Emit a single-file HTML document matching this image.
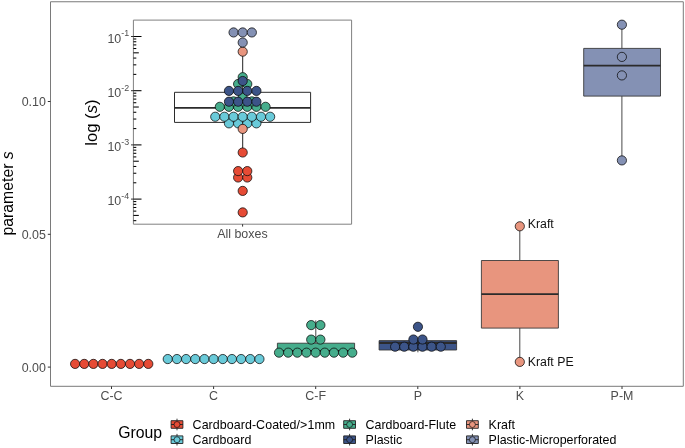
<!DOCTYPE html>
<html><head><meta charset="utf-8"><title>parameter s by group</title>
<style>
html,body{margin:0;padding:0;background:#fff;}
body{width:685px;height:448px;overflow:hidden;}
svg{display:block;font-family:"Liberation Sans",Arial,Helvetica,sans-serif;}
</style></head><body>
<svg width="685" height="448" viewBox="0 0 685 448">
<rect x="0" y="0" width="685" height="448" fill="#fff"/>
<rect x="50.50" y="1.75" width="632.80" height="384.55" fill="#fff" stroke="#7a7a7a" stroke-width="1.0" stroke-linejoin="round"/>
<line x1="47.80" y1="367.10" x2="50.50" y2="367.10" stroke="#333" stroke-width="1.0"/>
<text x="45.90" y="371.60" font-size="12.43" fill="#4D4D4D" text-anchor="end" >0.00</text>
<line x1="47.80" y1="234.30" x2="50.50" y2="234.30" stroke="#333" stroke-width="1.0"/>
<text x="45.90" y="238.80" font-size="12.43" fill="#4D4D4D" text-anchor="end" >0.05</text>
<line x1="47.80" y1="101.50" x2="50.50" y2="101.50" stroke="#333" stroke-width="1.0"/>
<text x="45.90" y="106.00" font-size="12.43" fill="#4D4D4D" text-anchor="end" >0.10</text>
<line x1="111.50" y1="386.30" x2="111.50" y2="389.00" stroke="#333" stroke-width="1.0"/>
<text x="111.50" y="399.70" font-size="12.43" fill="#4D4D4D" text-anchor="middle" >C-C</text>
<line x1="213.60" y1="386.30" x2="213.60" y2="389.00" stroke="#333" stroke-width="1.0"/>
<text x="213.60" y="399.70" font-size="12.43" fill="#4D4D4D" text-anchor="middle" >C</text>
<line x1="315.70" y1="386.30" x2="315.70" y2="389.00" stroke="#333" stroke-width="1.0"/>
<text x="315.70" y="399.70" font-size="12.43" fill="#4D4D4D" text-anchor="middle" >C-F</text>
<line x1="417.80" y1="386.30" x2="417.80" y2="389.00" stroke="#333" stroke-width="1.0"/>
<text x="417.80" y="399.70" font-size="12.43" fill="#4D4D4D" text-anchor="middle" >P</text>
<line x1="519.90" y1="386.30" x2="519.90" y2="389.00" stroke="#333" stroke-width="1.0"/>
<text x="519.90" y="399.70" font-size="12.43" fill="#4D4D4D" text-anchor="middle" >K</text>
<line x1="622.00" y1="386.30" x2="622.00" y2="389.00" stroke="#333" stroke-width="1.0"/>
<text x="622.00" y="399.70" font-size="12.43" fill="#4D4D4D" text-anchor="middle" >P-M</text>
<text transform="translate(13.2,193.4) rotate(-90)" font-size="15.8" fill="#000" text-anchor="middle">parameter <tspan font-style="italic">s</tspan></text>
<circle cx="75.10" cy="363.90" r="4.6" fill="#E64B35" stroke="#0a0a0a" stroke-width="0.75"/>
<circle cx="84.25" cy="363.90" r="4.6" fill="#E64B35" stroke="#0a0a0a" stroke-width="0.75"/>
<circle cx="93.40" cy="363.90" r="4.6" fill="#E64B35" stroke="#0a0a0a" stroke-width="0.75"/>
<circle cx="102.55" cy="363.90" r="4.6" fill="#E64B35" stroke="#0a0a0a" stroke-width="0.75"/>
<circle cx="111.70" cy="363.90" r="4.6" fill="#E64B35" stroke="#0a0a0a" stroke-width="0.75"/>
<circle cx="120.85" cy="363.90" r="4.6" fill="#E64B35" stroke="#0a0a0a" stroke-width="0.75"/>
<circle cx="130.00" cy="363.90" r="4.6" fill="#E64B35" stroke="#0a0a0a" stroke-width="0.75"/>
<circle cx="139.15" cy="363.90" r="4.6" fill="#E64B35" stroke="#0a0a0a" stroke-width="0.75"/>
<circle cx="148.30" cy="363.90" r="4.6" fill="#E64B35" stroke="#0a0a0a" stroke-width="0.75"/>
<circle cx="167.75" cy="359.05" r="4.6" fill="#69CAD9" stroke="#0a0a0a" stroke-width="0.75"/>
<circle cx="176.92" cy="359.05" r="4.6" fill="#69CAD9" stroke="#0a0a0a" stroke-width="0.75"/>
<circle cx="186.09" cy="359.05" r="4.6" fill="#69CAD9" stroke="#0a0a0a" stroke-width="0.75"/>
<circle cx="195.26" cy="359.05" r="4.6" fill="#69CAD9" stroke="#0a0a0a" stroke-width="0.75"/>
<circle cx="204.43" cy="359.05" r="4.6" fill="#69CAD9" stroke="#0a0a0a" stroke-width="0.75"/>
<circle cx="213.60" cy="359.05" r="4.6" fill="#69CAD9" stroke="#0a0a0a" stroke-width="0.75"/>
<circle cx="222.77" cy="359.05" r="4.6" fill="#69CAD9" stroke="#0a0a0a" stroke-width="0.75"/>
<circle cx="231.94" cy="359.05" r="4.6" fill="#69CAD9" stroke="#0a0a0a" stroke-width="0.75"/>
<circle cx="241.11" cy="359.05" r="4.6" fill="#69CAD9" stroke="#0a0a0a" stroke-width="0.75"/>
<circle cx="250.28" cy="359.05" r="4.6" fill="#69CAD9" stroke="#0a0a0a" stroke-width="0.75"/>
<circle cx="259.45" cy="359.05" r="4.6" fill="#69CAD9" stroke="#0a0a0a" stroke-width="0.75"/>
<line x1="315.80" y1="343.20" x2="315.80" y2="320.40" stroke="#333" stroke-width="0.9"/>
<rect x="277.40" y="343.20" width="77.20" height="9.30" fill="#46AD8C" stroke="#333" stroke-width="0.85" stroke-linejoin="round"/>
<line x1="277.40" y1="351.00" x2="354.60" y2="351.00" stroke="#2b2b2b" stroke-width="1.8"/>
<circle cx="279.01" cy="352.65" r="4.6" fill="#46AD8C" stroke="#0a0a0a" stroke-width="0.75"/>
<circle cx="288.17" cy="352.65" r="4.6" fill="#46AD8C" stroke="#0a0a0a" stroke-width="0.75"/>
<circle cx="297.33" cy="352.65" r="4.6" fill="#46AD8C" stroke="#0a0a0a" stroke-width="0.75"/>
<circle cx="306.49" cy="352.65" r="4.6" fill="#46AD8C" stroke="#0a0a0a" stroke-width="0.75"/>
<circle cx="315.65" cy="352.65" r="4.6" fill="#46AD8C" stroke="#0a0a0a" stroke-width="0.75"/>
<circle cx="324.81" cy="352.65" r="4.6" fill="#46AD8C" stroke="#0a0a0a" stroke-width="0.75"/>
<circle cx="333.97" cy="352.65" r="4.6" fill="#46AD8C" stroke="#0a0a0a" stroke-width="0.75"/>
<circle cx="343.13" cy="352.65" r="4.6" fill="#46AD8C" stroke="#0a0a0a" stroke-width="0.75"/>
<circle cx="352.29" cy="352.65" r="4.6" fill="#46AD8C" stroke="#0a0a0a" stroke-width="0.75"/>
<circle cx="311.20" cy="339.60" r="4.6" fill="#46AD8C" stroke="#0a0a0a" stroke-width="0.75"/>
<circle cx="320.40" cy="339.60" r="4.6" fill="#46AD8C" stroke="#0a0a0a" stroke-width="0.75"/>
<circle cx="311.20" cy="325.10" r="4.6" fill="#46AD8C" stroke="#0a0a0a" stroke-width="0.75"/>
<circle cx="320.40" cy="325.10" r="4.6" fill="#46AD8C" stroke="#0a0a0a" stroke-width="0.75"/>
<line x1="417.90" y1="340.60" x2="417.90" y2="339.00" stroke="#333" stroke-width="0.9"/>
<line x1="417.90" y1="350.00" x2="417.90" y2="352.30" stroke="#333" stroke-width="0.9"/>
<rect x="379.10" y="340.60" width="77.50" height="9.40" fill="#3C5488" stroke="#333" stroke-width="0.85" stroke-linejoin="round"/>
<line x1="379.10" y1="342.90" x2="456.60" y2="342.90" stroke="#2b2b2b" stroke-width="2.1"/>
<circle cx="395.12" cy="346.70" r="4.6" fill="#3C5488" stroke="#0a0a0a" stroke-width="0.75"/>
<circle cx="404.25" cy="346.70" r="4.6" fill="#3C5488" stroke="#0a0a0a" stroke-width="0.75"/>
<circle cx="413.38" cy="346.70" r="4.6" fill="#3C5488" stroke="#0a0a0a" stroke-width="0.75"/>
<circle cx="422.51" cy="346.70" r="4.6" fill="#3C5488" stroke="#0a0a0a" stroke-width="0.75"/>
<circle cx="431.64" cy="346.70" r="4.6" fill="#3C5488" stroke="#0a0a0a" stroke-width="0.75"/>
<circle cx="440.77" cy="346.70" r="4.6" fill="#3C5488" stroke="#0a0a0a" stroke-width="0.75"/>
<circle cx="413.40" cy="339.50" r="4.6" fill="#3C5488" stroke="#0a0a0a" stroke-width="0.75"/>
<circle cx="422.50" cy="339.50" r="4.6" fill="#3C5488" stroke="#0a0a0a" stroke-width="0.75"/>
<circle cx="417.95" cy="326.80" r="4.6" fill="#3C5488" stroke="#0a0a0a" stroke-width="0.75"/>
<line x1="519.80" y1="226.30" x2="519.80" y2="260.20" stroke="#333" stroke-width="0.9"/>
<line x1="519.80" y1="327.80" x2="519.80" y2="361.90" stroke="#333" stroke-width="0.9"/>
<rect x="481.40" y="260.50" width="77.00" height="67.60" fill="#E8957E" stroke="#333" stroke-width="0.85" stroke-linejoin="round"/>
<line x1="481.40" y1="294.10" x2="558.40" y2="294.10" stroke="#2b2b2b" stroke-width="1.8"/>
<circle cx="519.80" cy="226.30" r="4.6" fill="#E8957E" stroke="#0a0a0a" stroke-width="0.75"/>
<circle cx="519.80" cy="361.90" r="4.6" fill="#E8957E" stroke="#0a0a0a" stroke-width="0.75"/>
<text x="527.80" y="228.00" font-size="12.3" fill="#111" text-anchor="start" >Kraft</text>
<text x="527.80" y="366.30" font-size="12.3" fill="#111" text-anchor="start" >Kraft PE</text>
<line x1="621.90" y1="24.70" x2="621.90" y2="48.40" stroke="#333" stroke-width="0.9"/>
<line x1="621.90" y1="96.10" x2="621.90" y2="160.40" stroke="#333" stroke-width="0.9"/>
<rect x="583.70" y="48.40" width="76.80" height="47.70" fill="#8491B4" stroke="#333" stroke-width="0.85" stroke-linejoin="round"/>
<line x1="583.70" y1="65.60" x2="660.50" y2="65.60" stroke="#2b2b2b" stroke-width="1.8"/>
<circle cx="621.90" cy="24.70" r="4.6" fill="#8491B4" stroke="#0a0a0a" stroke-width="0.75"/>
<circle cx="621.90" cy="56.90" r="4.6" fill="#8491B4" stroke="#0a0a0a" stroke-width="0.75"/>
<circle cx="621.90" cy="75.40" r="4.6" fill="#8491B4" stroke="#0a0a0a" stroke-width="0.75"/>
<circle cx="621.90" cy="160.40" r="4.6" fill="#8491B4" stroke="#0a0a0a" stroke-width="0.75"/>
<rect x="84.00" y="14.00" width="272.00" height="232.00" fill="#fff" stroke="none" stroke-width="0" stroke-linejoin="round"/>
<rect x="133.40" y="20.10" width="218.20" height="204.10" fill="#fff" stroke="#808080" stroke-width="1.0" stroke-linejoin="round"/>
<line x1="131.00" y1="36.50" x2="133.40" y2="36.50" stroke="#333" stroke-width="1.0"/>
<text x="129.2" y="42.60" font-size="12.43" fill="#4D4D4D" text-anchor="end">10<tspan font-size="8.9" dy="-6.3">-1</tspan></text>
<line x1="131.00" y1="90.70" x2="133.40" y2="90.70" stroke="#333" stroke-width="1.0"/>
<text x="129.2" y="96.80" font-size="12.43" fill="#4D4D4D" text-anchor="end">10<tspan font-size="8.9" dy="-6.3">-2</tspan></text>
<line x1="131.00" y1="144.90" x2="133.40" y2="144.90" stroke="#333" stroke-width="1.0"/>
<text x="129.2" y="151.00" font-size="12.43" fill="#4D4D4D" text-anchor="end">10<tspan font-size="8.9" dy="-6.3">-3</tspan></text>
<line x1="131.00" y1="199.10" x2="133.40" y2="199.10" stroke="#333" stroke-width="1.0"/>
<text x="129.2" y="205.20" font-size="12.43" fill="#4D4D4D" text-anchor="end">10<tspan font-size="8.9" dy="-6.3">-4</tspan></text>
<line x1="133.40" y1="36.50" x2="141.50" y2="36.50" stroke="#000" stroke-width="1.05"/>
<line x1="133.40" y1="90.70" x2="141.50" y2="90.70" stroke="#000" stroke-width="1.05"/>
<line x1="133.40" y1="74.38" x2="136.30" y2="74.38" stroke="#000" stroke-width="1.05"/>
<line x1="133.40" y1="64.84" x2="136.30" y2="64.84" stroke="#000" stroke-width="1.05"/>
<line x1="133.40" y1="58.07" x2="136.30" y2="58.07" stroke="#000" stroke-width="1.05"/>
<line x1="133.40" y1="52.82" x2="138.80" y2="52.82" stroke="#000" stroke-width="1.05"/>
<line x1="133.40" y1="48.52" x2="136.30" y2="48.52" stroke="#000" stroke-width="1.05"/>
<line x1="133.40" y1="44.90" x2="136.30" y2="44.90" stroke="#000" stroke-width="1.05"/>
<line x1="133.40" y1="41.75" x2="136.30" y2="41.75" stroke="#000" stroke-width="1.05"/>
<line x1="133.40" y1="38.98" x2="136.30" y2="38.98" stroke="#000" stroke-width="1.05"/>
<line x1="133.40" y1="144.90" x2="141.50" y2="144.90" stroke="#000" stroke-width="1.05"/>
<line x1="133.40" y1="128.58" x2="136.30" y2="128.58" stroke="#000" stroke-width="1.05"/>
<line x1="133.40" y1="119.04" x2="136.30" y2="119.04" stroke="#000" stroke-width="1.05"/>
<line x1="133.40" y1="112.27" x2="136.30" y2="112.27" stroke="#000" stroke-width="1.05"/>
<line x1="133.40" y1="107.02" x2="138.80" y2="107.02" stroke="#000" stroke-width="1.05"/>
<line x1="133.40" y1="102.72" x2="136.30" y2="102.72" stroke="#000" stroke-width="1.05"/>
<line x1="133.40" y1="99.10" x2="136.30" y2="99.10" stroke="#000" stroke-width="1.05"/>
<line x1="133.40" y1="95.95" x2="136.30" y2="95.95" stroke="#000" stroke-width="1.05"/>
<line x1="133.40" y1="93.18" x2="136.30" y2="93.18" stroke="#000" stroke-width="1.05"/>
<line x1="133.40" y1="199.10" x2="141.50" y2="199.10" stroke="#000" stroke-width="1.05"/>
<line x1="133.40" y1="182.78" x2="136.30" y2="182.78" stroke="#000" stroke-width="1.05"/>
<line x1="133.40" y1="173.24" x2="136.30" y2="173.24" stroke="#000" stroke-width="1.05"/>
<line x1="133.40" y1="166.47" x2="136.30" y2="166.47" stroke="#000" stroke-width="1.05"/>
<line x1="133.40" y1="161.22" x2="138.80" y2="161.22" stroke="#000" stroke-width="1.05"/>
<line x1="133.40" y1="156.92" x2="136.30" y2="156.92" stroke="#000" stroke-width="1.05"/>
<line x1="133.40" y1="153.30" x2="136.30" y2="153.30" stroke="#000" stroke-width="1.05"/>
<line x1="133.40" y1="150.15" x2="136.30" y2="150.15" stroke="#000" stroke-width="1.05"/>
<line x1="133.40" y1="147.38" x2="136.30" y2="147.38" stroke="#000" stroke-width="1.05"/>
<line x1="133.40" y1="220.67" x2="136.30" y2="220.67" stroke="#000" stroke-width="1.05"/>
<line x1="133.40" y1="215.42" x2="138.80" y2="215.42" stroke="#000" stroke-width="1.05"/>
<line x1="133.40" y1="211.12" x2="136.30" y2="211.12" stroke="#000" stroke-width="1.05"/>
<line x1="133.40" y1="207.50" x2="136.30" y2="207.50" stroke="#000" stroke-width="1.05"/>
<line x1="133.40" y1="204.35" x2="136.30" y2="204.35" stroke="#000" stroke-width="1.05"/>
<line x1="133.40" y1="201.58" x2="136.30" y2="201.58" stroke="#000" stroke-width="1.05"/>
<line x1="242.60" y1="224.20" x2="242.60" y2="226.60" stroke="#333" stroke-width="1.0"/>
<text x="242.40" y="237.60" font-size="12.43" fill="#4D4D4D" text-anchor="middle" >All boxes</text>
<text transform="translate(96.9,122.6) rotate(-90)" font-size="16.7" fill="#000" text-anchor="middle">log (<tspan font-style="italic">s</tspan>)</text>
<line x1="242.70" y1="55.90" x2="242.70" y2="92.30" stroke="#222" stroke-width="1.0"/>
<line x1="242.70" y1="122.30" x2="242.70" y2="152.20" stroke="#222" stroke-width="1.0"/>
<rect x="174.50" y="92.30" width="136.10" height="30.10" fill="#fff" stroke="#2b2b2b" stroke-width="1.0" stroke-linejoin="round"/>
<line x1="174.50" y1="107.90" x2="310.60" y2="107.90" stroke="#2b2b2b" stroke-width="1.8"/>
<circle cx="242.70" cy="212.40" r="4.6" fill="#E64B35" stroke="#0a0a0a" stroke-width="0.75"/>
<circle cx="242.70" cy="190.90" r="4.6" fill="#E64B35" stroke="#0a0a0a" stroke-width="0.75"/>
<circle cx="238.12" cy="177.50" r="4.6" fill="#E64B35" stroke="#0a0a0a" stroke-width="0.75"/>
<circle cx="247.27" cy="177.50" r="4.6" fill="#E64B35" stroke="#0a0a0a" stroke-width="0.75"/>
<circle cx="238.12" cy="171.10" r="4.6" fill="#E64B35" stroke="#0a0a0a" stroke-width="0.75"/>
<circle cx="247.27" cy="171.10" r="4.6" fill="#E64B35" stroke="#0a0a0a" stroke-width="0.75"/>
<circle cx="242.70" cy="152.50" r="4.6" fill="#E64B35" stroke="#0a0a0a" stroke-width="0.75"/>
<circle cx="228.97" cy="123.35" r="4.6" fill="#69CAD9" stroke="#0a0a0a" stroke-width="0.75"/>
<circle cx="238.12" cy="123.35" r="4.6" fill="#69CAD9" stroke="#0a0a0a" stroke-width="0.75"/>
<circle cx="247.27" cy="123.35" r="4.6" fill="#69CAD9" stroke="#0a0a0a" stroke-width="0.75"/>
<circle cx="256.43" cy="123.35" r="4.6" fill="#69CAD9" stroke="#0a0a0a" stroke-width="0.75"/>
<circle cx="215.25" cy="116.75" r="4.6" fill="#69CAD9" stroke="#0a0a0a" stroke-width="0.75"/>
<circle cx="224.40" cy="116.75" r="4.6" fill="#69CAD9" stroke="#0a0a0a" stroke-width="0.75"/>
<circle cx="233.55" cy="116.75" r="4.6" fill="#69CAD9" stroke="#0a0a0a" stroke-width="0.75"/>
<circle cx="242.70" cy="116.75" r="4.6" fill="#69CAD9" stroke="#0a0a0a" stroke-width="0.75"/>
<circle cx="251.85" cy="116.75" r="4.6" fill="#69CAD9" stroke="#0a0a0a" stroke-width="0.75"/>
<circle cx="261.00" cy="116.75" r="4.6" fill="#69CAD9" stroke="#0a0a0a" stroke-width="0.75"/>
<circle cx="270.15" cy="116.75" r="4.6" fill="#69CAD9" stroke="#0a0a0a" stroke-width="0.75"/>
<circle cx="219.82" cy="106.80" r="4.6" fill="#46AD8C" stroke="#0a0a0a" stroke-width="0.75"/>
<circle cx="228.97" cy="106.80" r="4.6" fill="#46AD8C" stroke="#0a0a0a" stroke-width="0.75"/>
<circle cx="238.12" cy="106.80" r="4.6" fill="#46AD8C" stroke="#0a0a0a" stroke-width="0.75"/>
<circle cx="247.27" cy="106.80" r="4.6" fill="#46AD8C" stroke="#0a0a0a" stroke-width="0.75"/>
<circle cx="256.43" cy="106.80" r="4.6" fill="#46AD8C" stroke="#0a0a0a" stroke-width="0.75"/>
<circle cx="265.57" cy="106.80" r="4.6" fill="#46AD8C" stroke="#0a0a0a" stroke-width="0.75"/>
<circle cx="233.55" cy="101.40" r="4.6" fill="#46AD8C" stroke="#0a0a0a" stroke-width="0.75"/>
<circle cx="242.70" cy="101.40" r="4.6" fill="#46AD8C" stroke="#0a0a0a" stroke-width="0.75"/>
<circle cx="251.85" cy="101.40" r="4.6" fill="#46AD8C" stroke="#0a0a0a" stroke-width="0.75"/>
<circle cx="242.70" cy="97.60" r="4.6" fill="#46AD8C" stroke="#0a0a0a" stroke-width="0.75"/>
<circle cx="238.12" cy="84.00" r="4.6" fill="#46AD8C" stroke="#0a0a0a" stroke-width="0.75"/>
<circle cx="247.27" cy="84.00" r="4.6" fill="#46AD8C" stroke="#0a0a0a" stroke-width="0.75"/>
<circle cx="242.70" cy="77.20" r="4.6" fill="#46AD8C" stroke="#0a0a0a" stroke-width="0.75"/>
<circle cx="228.97" cy="101.70" r="4.6" fill="#3C5488" stroke="#0a0a0a" stroke-width="0.75"/>
<circle cx="238.12" cy="101.70" r="4.6" fill="#3C5488" stroke="#0a0a0a" stroke-width="0.75"/>
<circle cx="247.27" cy="101.70" r="4.6" fill="#3C5488" stroke="#0a0a0a" stroke-width="0.75"/>
<circle cx="256.43" cy="101.70" r="4.6" fill="#3C5488" stroke="#0a0a0a" stroke-width="0.75"/>
<circle cx="228.97" cy="90.90" r="4.6" fill="#3C5488" stroke="#0a0a0a" stroke-width="0.75"/>
<circle cx="238.12" cy="90.90" r="4.6" fill="#3C5488" stroke="#0a0a0a" stroke-width="0.75"/>
<circle cx="247.27" cy="90.90" r="4.6" fill="#3C5488" stroke="#0a0a0a" stroke-width="0.75"/>
<circle cx="256.43" cy="90.90" r="4.6" fill="#3C5488" stroke="#0a0a0a" stroke-width="0.75"/>
<circle cx="242.70" cy="81.00" r="4.6" fill="#3C5488" stroke="#0a0a0a" stroke-width="0.75"/>
<circle cx="242.70" cy="128.90" r="4.6" fill="#E8957E" stroke="#0a0a0a" stroke-width="0.75"/>
<circle cx="242.70" cy="51.65" r="4.6" fill="#E8957E" stroke="#0a0a0a" stroke-width="0.75"/>
<circle cx="242.70" cy="42.55" r="4.6" fill="#8491B4" stroke="#0a0a0a" stroke-width="0.75"/>
<circle cx="233.55" cy="32.45" r="4.6" fill="#8491B4" stroke="#0a0a0a" stroke-width="0.75"/>
<circle cx="242.70" cy="32.45" r="4.6" fill="#8491B4" stroke="#0a0a0a" stroke-width="0.75"/>
<circle cx="251.85" cy="32.45" r="4.6" fill="#8491B4" stroke="#0a0a0a" stroke-width="0.75"/>
<text x="118.2" y="437.6" font-size="15.8" fill="#000">Group</text>
<line x1="177.00" y1="418.70" x2="177.00" y2="430.30" stroke="#222" stroke-width="0.9"/>
<rect x="171.10" y="420.70" width="11.80" height="7.60" fill="#E64B35" stroke="#222" stroke-width="0.9" stroke-linejoin="round"/>
<line x1="171.00" y1="424.50" x2="183.00" y2="424.50" stroke="#222" stroke-width="0.9"/>
<circle cx="177" cy="424.5" r="3.0" fill="#E64B35" stroke="#111" stroke-width="0.7"/>
<text x="192.60" y="428.70" font-size="12.43" fill="#000" text-anchor="start" letter-spacing="0.07">Cardboard-Coated/&gt;1mm</text>
<line x1="177.00" y1="433.90" x2="177.00" y2="445.50" stroke="#222" stroke-width="0.9"/>
<rect x="171.10" y="435.90" width="11.80" height="7.60" fill="#69CAD9" stroke="#222" stroke-width="0.9" stroke-linejoin="round"/>
<line x1="171.00" y1="439.70" x2="183.00" y2="439.70" stroke="#222" stroke-width="0.9"/>
<circle cx="177" cy="439.7" r="3.0" fill="#69CAD9" stroke="#111" stroke-width="0.7"/>
<text x="192.60" y="443.90" font-size="12.43" fill="#000" text-anchor="start" >Cardboard</text>
<line x1="349.60" y1="418.70" x2="349.60" y2="430.30" stroke="#222" stroke-width="0.9"/>
<rect x="343.70" y="420.70" width="11.80" height="7.60" fill="#46AD8C" stroke="#222" stroke-width="0.9" stroke-linejoin="round"/>
<line x1="343.60" y1="424.50" x2="355.60" y2="424.50" stroke="#222" stroke-width="0.9"/>
<circle cx="349.6" cy="424.5" r="3.0" fill="#46AD8C" stroke="#111" stroke-width="0.7"/>
<text x="365.60" y="428.70" font-size="12.43" fill="#000" text-anchor="start" >Cardboard-Flute</text>
<line x1="349.60" y1="433.90" x2="349.60" y2="445.50" stroke="#222" stroke-width="0.9"/>
<rect x="343.70" y="435.90" width="11.80" height="7.60" fill="#3C5488" stroke="#222" stroke-width="0.9" stroke-linejoin="round"/>
<line x1="343.60" y1="439.70" x2="355.60" y2="439.70" stroke="#222" stroke-width="0.9"/>
<circle cx="349.6" cy="439.7" r="3.0" fill="#3C5488" stroke="#111" stroke-width="0.7"/>
<text x="365.60" y="443.90" font-size="12.43" fill="#000" text-anchor="start" >Plastic</text>
<line x1="472.40" y1="418.70" x2="472.40" y2="430.30" stroke="#222" stroke-width="0.9"/>
<rect x="466.50" y="420.70" width="11.80" height="7.60" fill="#E8957E" stroke="#222" stroke-width="0.9" stroke-linejoin="round"/>
<line x1="466.40" y1="424.50" x2="478.40" y2="424.50" stroke="#222" stroke-width="0.9"/>
<circle cx="472.4" cy="424.5" r="3.0" fill="#E8957E" stroke="#111" stroke-width="0.7"/>
<text x="488.60" y="428.70" font-size="12.43" fill="#000" text-anchor="start" >Kraft</text>
<line x1="472.40" y1="433.90" x2="472.40" y2="445.50" stroke="#222" stroke-width="0.9"/>
<rect x="466.50" y="435.90" width="11.80" height="7.60" fill="#8491B4" stroke="#222" stroke-width="0.9" stroke-linejoin="round"/>
<line x1="466.40" y1="439.70" x2="478.40" y2="439.70" stroke="#222" stroke-width="0.9"/>
<circle cx="472.4" cy="439.7" r="3.0" fill="#8491B4" stroke="#111" stroke-width="0.7"/>
<text x="488.60" y="443.90" font-size="12.43" fill="#000" text-anchor="start" >Plastic-Microperforated</text>
</svg>
</body></html>
